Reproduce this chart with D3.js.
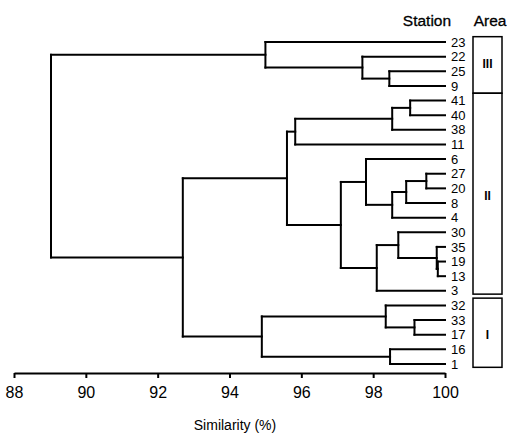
<!DOCTYPE html>
<html>
<head>
<meta charset="utf-8">
<script src="https://cdn.jsdelivr.net/npm/d3@7"></script>
<style>
  body { margin: 0; background: #fff; }
  text { font-family: "Liberation Sans", Arial, sans-serif; fill: #000; }
</style>
</head>
<body>
<svg id="chart"></svg>
<script>
const width = 507;
const height = 433;

// leaf order top to bottom
const stations = ["23", "22", "25", "9", "41", "40", "38", "11", "6", "27", "20", "8", "4",
  "30", "35", "19", "13", "3", "32", "33", "17", "16", "1"];

// [id, left, right, similarity %]
const merges = [
  ["a", "25", "9", 98.45],
  ["b", "22", "a", 97.7],
  ["c", "23", "b", 95.0],
  ["d", "41", "40", 99.03],
  ["e", "d", "38", 98.53],
  ["f", "e", "11", 95.83],
  ["g", "27", "20", 99.48],
  ["h", "g", "8", 98.92],
  ["i", "h", "4", 98.53],
  ["j", "6", "i", 97.8],
  ["k", "19", "13", 99.8],
  ["l", "35", "k", 99.77],
  ["m", "30", "l", 98.7],
  ["n", "m", "3", 98.1],
  ["o", "j", "n", 97.1],
  ["p", "f", "o", 95.6],
  ["q", "33", "17", 99.15],
  ["r", "32", "q", 98.35],
  ["s", "16", "1", 98.47],
  ["t", "r", "s", 94.9],
  ["u", "p", "t", 92.7],
  ["v", "c", "u", 89.03]
];

const areaNames = ["III", "II", "I"];
const areaFirst = ["23", "41", "32"];
const areaLast = ["9", "3", "1"];

const ticks = [88, 90, 92, 94, 96, 98, 100];

const svg = d3.select("#chart")
    .attr("width", width)
    .attr("height", height);

const x = d3.scaleLinear()
    .domain([88, 100])
    .range([14, 445]);

const y = d3.scalePoint()
    .domain(stations)
    .range([42, 364]);

// node positions
const nodes = {};
stations.forEach(s => { nodes[s] = { sim: 100, y: y(s) }; });
merges.forEach(([id, l, r, sim]) => {
    nodes[id] = { sim: sim, y: (nodes[l].y + nodes[r].y) / 2 };
});

const segs = [];
merges.forEach(([id, l, r, sim]) => {
    [l, r].forEach(c => {
        segs.push([x(sim), nodes[c].y, x(nodes[c].sim), nodes[c].y]);
    });
    segs.push([x(sim), nodes[l].y, x(sim), nodes[r].y]);
});

svg.append("g")
    .selectAll("line")
    .data(segs)
    .enter()
    .append("line")
    .attr("x1", d => d[0])
    .attr("y1", d => d[1])
    .attr("x2", d => d[2])
    .attr("y2", d => d[3])
    .attr("stroke", "#000")
    .attr("stroke-width", 2)
    .attr("stroke-linecap", "square");

// station labels
svg.append("g")
    .selectAll("text")
    .data(stations)
    .enter()
    .append("text")
    .attr("x", 451)
    .attr("y", d => y(d))
    .attr("dy", "0.36em")
    .attr("font-size", 13)
    .text(d => d);

// headers
svg.append("text")
    .attr("x", 427)
    .attr("y", 26)
    .attr("text-anchor", "middle")
    .attr("font-size", 15.5)
    .attr("stroke", "#000")
    .attr("stroke-width", 0.3)
    .text("Station");

svg.append("text")
    .attr("x", 490)
    .attr("y", 26)
    .attr("text-anchor", "middle")
    .attr("font-size", 15.5)
    .attr("stroke", "#000")
    .attr("stroke-width", 0.3)
    .text("Area");

// area boxes
const step = y.step();
const areas = svg.append("g")
    .selectAll("g")
    .data(areaNames)
    .enter()
    .append("g");

areas.append("rect")
    .attr("x", 473)
    .attr("y", (d, i) => y(areaFirst[i]) - step / 2 + (i === 0 ? 2 : 0))
    .attr("width", 29)
    .attr("height", (d, i) => y(areaLast[i]) - y(areaFirst[i]) + step - (i === 0 ? 2 : 4))
    .attr("fill", "none")
    .attr("stroke", "#000")
    .attr("stroke-width", 1.5);

areas.append("text")
    .attr("x", 487.5)
    .attr("y", (d, i) => (y(areaFirst[i]) + y(areaLast[i])) / 2)
    .attr("dy", "0.35em")
    .attr("text-anchor", "middle")
    .attr("font-size", 12)
    .attr("font-weight", "bold")
    .text(d => d);

// axis
const axis = svg.append("g")
    .attr("transform", "translate(0,373)")
    .call(d3.axisBottom(x).tickValues(ticks).tickSize(5).tickSizeOuter(0).tickPadding(9));

axis.select(".domain").attr("stroke-width", 2);
axis.selectAll(".tick line").attr("stroke-width", 2);
axis.selectAll(".tick text")
    .attr("font-size", 16)
    .attr("font-family", "'Liberation Sans', Arial, sans-serif");

svg.append("text")
    .attr("x", 235)
    .attr("y", 430)
    .attr("text-anchor", "middle")
    .attr("font-size", 14)
    .text("Similarity (%)");
</script>
</body>
</html>
